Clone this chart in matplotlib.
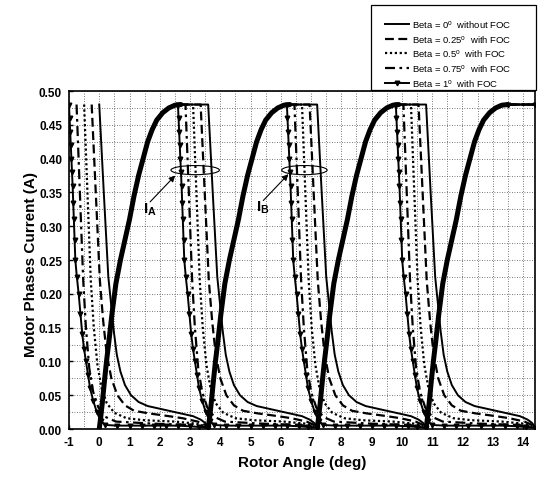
import numpy as np
import matplotlib.pyplot as plt
from matplotlib.patches import Ellipse, Rectangle
from matplotlib.ticker import MultipleLocator

plt.rcParams['font.family'] = ['Liberation Sans', 'DejaVu Sans']
plt.rcParams['mathtext.fontset'] = 'custom'
plt.rcParams['mathtext.rm'] = 'Liberation Sans'
plt.rcParams['mathtext.bf'] = 'Liberation Sans:bold'
plt.rcParams['mathtext.it'] = 'Liberation Sans:italic'
plt.rcParams['axes.unicode_minus'] = False

# turn-on angles of the phase currents (deg), phases A and B alternate
turn_on = [-3.6, 0.0, 3.6, 7.2, 10.8]
x_end = 14.4

# rising current after turn-on, the same for every beta (deg after turn-on, A)
rise_x = [0.0, 0.05, 0.1, 0.17, 0.24, 0.32, 0.42, 0.55, 0.7, 0.85, 1.0, 1.15, 1.3, 1.45,
          1.6, 1.75, 1.9, 2.1, 2.3, 2.5, 2.7]
rise_y = [0.0, 0.018, 0.038, 0.07, 0.1, 0.13, 0.17, 0.215, 0.25, 0.28, 0.31, 0.345, 0.375, 0.40,
          0.425, 0.443, 0.457, 0.468, 0.475, 0.479, 0.48]

labels = [r'Beta = 0$^{\rm o}$  without FOC',
          r'Beta = 0.25$^{\rm o}$  with FOC',
          r'Beta = 0.5$^{\rm o}$  with FOC',
          r'Beta = 0.75$^{\rm o}$  with FOC',
          r'Beta = 1$^{\rm o}$  with FOC']

# turn-off angle counted from turn-on (deg)
turn_off = [3.6, 3.35, 3.1, 2.85, 2.6]

# current after turn-off (deg after turn-off, A)
fall_x_b0 = [0, 0.15, 0.3, 0.38, 0.48, 0.58, 0.7, 0.85, 1.05, 1.3, 1.6, 2.0, 2.4, 2.8, 3.1, 3.35, 3.5, 3.6]
fall_y_b0 = [0.48, 0.35, 0.225, 0.19, 0.145, 0.11, 0.085, 0.065, 0.05, 0.04, 0.034, 0.03, 0.026, 0.022, 0.019, 0.014, 0.009, 0.003]

fall_x_b25 = [0, 0.27, 0.38, 0.5, 0.65, 0.85, 1.1, 1.4, 1.9, 2.4, 3.0, 3.5, 3.75, 3.85]
fall_y_b25 = [0.48, 0.22, 0.16, 0.11, 0.075, 0.05, 0.035, 0.027, 0.023, 0.02, 0.016, 0.011, 0.006, 0.003]

fall_x_b50 = [0, 0.22, 0.32, 0.44, 0.58, 0.75, 1.0, 1.4, 2.0, 3.0, 3.7, 4.1]
fall_y_b50 = [0.48, 0.22, 0.15, 0.095, 0.06, 0.038, 0.024, 0.016, 0.013, 0.011, 0.008, 0.003]

fall_x_b75 = [0, 0.22, 0.31, 0.42, 0.55, 0.72, 0.95, 1.3, 2.5, 3.8, 4.35]
fall_y_b75 = [0.48, 0.22, 0.15, 0.09, 0.055, 0.032, 0.018, 0.011, 0.008, 0.006, 0.002]

fall_x_b100 = [0, 0.02, 0.04, 0.06, 0.08, 0.1, 0.12, 0.14, 0.16, 0.185, 0.21, 0.26, 0.32, 0.38, 0.44,
               0.5, 0.56, 0.63, 0.7, 0.8, 0.92, 1.05, 1.2, 1.6, 2.0, 2.4, 2.8, 3.2, 3.6, 4.0, 4.3, 4.6]
fall_y_b100 = [0.48, 0.46, 0.44, 0.42, 0.40, 0.38, 0.36, 0.335, 0.31, 0.28, 0.25, 0.225, 0.2, 0.17, 0.14,
               0.118, 0.1, 0.08, 0.06, 0.042, 0.025, 0.012, 0.006, 0.005, 0.005, 0.005, 0.005, 0.005, 0.005, 0.004, 0.003, 0.002]

fall_x = [fall_x_b0, fall_x_b25, fall_x_b50, fall_x_b75, fall_x_b100]
fall_y = [fall_y_b0, fall_y_b25, fall_y_b50, fall_y_b75, fall_y_b100]

styles = [dict(linestyle='-', lw=1.4),
          dict(linestyle=(0, (4, 2)), lw=1.6),
          dict(linestyle=(0, (1, 1.2)), lw=1.6),
          dict(linestyle=(0, (4.5, 2, 1.2, 2)), lw=1.6),
          dict(linestyle='-', lw=1.4, marker='v', markersize=3.3)]

fig = plt.figure(figsize=(5.41, 4.81), dpi=100)
ax = fig.add_axes([0.1275, 0.106, 0.8615, 0.7027])

# rising part (all curves on top of each other)
for t0 in turn_on[1:]:
    ax.plot(t0 + np.array(rise_x), rise_y, color='black', lw=3.6,
            solid_capstyle='round', solid_joinstyle='round', zorder=3)

for i in range(len(labels)):
    xs, ys = [], []
    for k, t0 in enumerate(turn_on):
        plat_start = t0 + rise_x[-1]
        if k == len(turn_on) - 1:
            # last cycle: current still on at the end of the record
            seg_x = [plat_start, x_end]
            seg_y = [rise_y[-1], rise_y[-1]]
        else:
            off = t0 + turn_off[i]
            seg_x = list(off + np.array(fall_x[i]))
            seg_y = list(fall_y[i])
            if k > 0 and off > plat_start:
                seg_x = [plat_start] + seg_x
                seg_y = [rise_y[-1]] + seg_y
        xs += seg_x + [np.nan]
        ys += seg_y + [np.nan]
    ax.plot(xs, ys, color='black', label=labels[i], zorder=4, **styles[i])

# I_A / I_B marks
ax.add_patch(Ellipse((3.17, 0.383), 1.6, 0.0135, fill=False, lw=0.8, color='black', zorder=5))
ax.add_patch(Ellipse((6.78, 0.383), 1.5, 0.0135, fill=False, lw=0.8, color='black', zorder=5))
arrow = dict(arrowstyle='-|>', lw=0.8, color='black', mutation_scale=9, shrinkA=0, shrinkB=0)
ax.annotate('', xy=(2.51, 0.375), xytext=(1.68, 0.336), arrowprops=arrow, zorder=6)
ax.annotate('', xy=(6.25, 0.377), xytext=(5.42, 0.338), arrowprops=arrow, zorder=6)
ax.text(1.45, 0.320, r'$\mathbf{I_A}$', fontsize=11, va='baseline', ha='left')
ax.text(5.17, 0.323, r'$\mathbf{I_B}$', fontsize=11, va='baseline', ha='left')

ax.set_xlim(-1, 14.4)
ax.set_ylim(0, 0.5)
ax.xaxis.set_major_locator(MultipleLocator(1))
ax.xaxis.set_minor_locator(MultipleLocator(0.5))
ax.yaxis.set_major_locator(MultipleLocator(0.05))
ax.yaxis.set_minor_locator(MultipleLocator(0.025))
ax.set_yticklabels(['%.2f' % v for v in ax.get_yticks()])
ax.grid(which='both', color='0.3', lw=0.6, linestyle=(0, (1, 2)))
ax.set_axisbelow(True)
ax.tick_params(which='major', direction='in', length=3, width=1, labelsize=8.5, pad=5)
ax.tick_params(which='minor', length=0)
for lab in ax.get_xticklabels() + ax.get_yticklabels():
    lab.set_fontweight('bold')
for sp in ax.spines.values():
    sp.set_linewidth(1.2)

ax.set_xlabel('Rotor Angle (deg)', fontsize=11, fontweight='bold')
ax.set_ylabel('Motor Phases Current (A)', fontsize=11, fontweight='bold')
ax.xaxis.set_label_coords(0.5, -0.078)
ax.yaxis.set_label_coords(-0.067, 0.49)

# legend box above the plot
fig.patches.append(Rectangle((371 / 541, 1 - 91 / 481), 165 / 541, 85 / 481,
                             transform=fig.transFigure, facecolor='white',
                             edgecolor='black', lw=0.9, zorder=1))
handles, labs = ax.get_legend_handles_labels()
fig.legend(handles, labs, loc='upper left', bbox_to_anchor=(385 / 541, 1 - 19 / 481),
           frameon=False, fontsize=6.8, handlelength=2.5, handletextpad=0.35,
           labelspacing=0.28, borderpad=0, borderaxespad=0)

fig.savefig('out.png', dpi=100)
